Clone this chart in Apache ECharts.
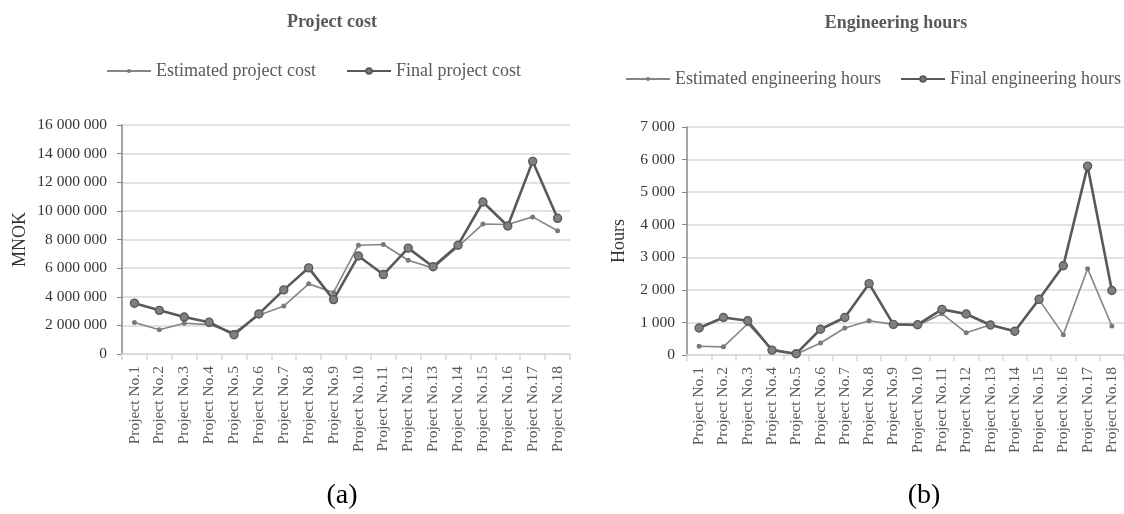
<!DOCTYPE html>
<html>
<head>
<meta charset="utf-8">
<script src="https://cdn.jsdelivr.net/npm/echarts@6/dist/echarts.min.js"></script>
<style>
  html, body { margin: 0; padding: 0; background: #ffffff; }
  #chart { width: 1124px; height: 514px; }
</style>
</head>
<body>
<div id="chart"></div>
<script>
// Project labels shared by both panels
const projects = [
  'Project No.1', 'Project No.2', 'Project No.3', 'Project No.4', 'Project No.5',
  'Project No.6', 'Project No.7', 'Project No.8', 'Project No.9', 'Project No.10',
  'Project No.11', 'Project No.12', 'Project No.13', 'Project No.14', 'Project No.15',
  'Project No.16', 'Project No.17', 'Project No.18'
];

// Panel (a): project cost, MNOK
const estimatedCost = [
  2200000, 1700000, 2150000, 2050000, 1500000, 2700000, 3350000, 4900000, 4300000,
  7600000, 7650000, 6550000, 6000000, 7500000, 9080000, 9050000, 9580000, 8610000
];
const finalCost = [
  3550000, 3050000, 2580000, 2220000, 1350000, 2800000, 4480000, 6020000, 3800000,
  6850000, 5550000, 7400000, 6100000, 7600000, 10620000, 8940000, 13460000, 9480000
];

// Panel (b): engineering hours
const estimatedHours = [
  270, 250, 960, 180, 20, 370, 830, 1050, 940,
  900, 1270, 680, 930, 730, 1700, 625, 2650, 890
];
const finalHours = [
  830, 1150, 1050, 150, 40, 790, 1150, 2190, 940,
  930, 1400, 1260, 920, 730, 1710, 2740, 5800, 1980
];

const FONT = "'Liberation Serif', 'DejaVu Serif', serif";
const TEXT = '#595959';
const GRID = '#d9d9d9';
const AXIS = '#868686';

function spaced(v) {
  return String(v).replace(/\B(?=(\d{3})+(?!\d))/g, ' ');
}

function catAxis(gridIndex) {
  return {
    type: 'category',
    gridIndex: gridIndex,
    data: projects,
    boundaryGap: true,
    axisLine: { show: true, lineStyle: { color: GRID, width: 1.5 } },
    axisTick: { show: true, length: 6, lineStyle: { color: GRID, width: 1.5 } },
    axisLabel: {
      rotate: 90, interval: 0, margin: 12,
      fontFamily: FONT, fontSize: 15.5, color: TEXT
    },
    splitLine: { show: false }
  };
}

function valAxis(gridIndex, max, interval, name, nameGap, labelMargin) {
  return {
    type: 'value',
    gridIndex: gridIndex,
    min: 0, max: max, interval: interval,
    name: name,
    nameLocation: 'middle',
    nameRotate: 90,
    nameGap: nameGap,
    nameTextStyle: { fontFamily: FONT, fontSize: 18, color: '#333333' },
    axisLine: { show: true, lineStyle: { color: AXIS, width: 1.5 } },
    axisTick: { show: true, length: 5, lineStyle: { color: AXIS } },
    axisLabel: {
      margin: labelMargin, fontFamily: FONT, fontSize: 15.5, color: '#333333',
      formatter: spaced
    },
    splitLine: { show: true, lineStyle: { color: GRID, width: 1.5 } }
  };
}

function estimatedSeries(name, data, idx) {
  return {
    name: name, type: 'line', data: data,
    xAxisIndex: idx, yAxisIndex: idx,
    symbol: 'circle', symbolSize: 5,
    lineStyle: { color: '#858585', width: 1.6 },
    itemStyle: { color: '#7a7a7a', borderWidth: 0 },
    z: 2
  };
}

function finalSeries(name, data, idx) {
  return {
    name: name, type: 'line', data: data,
    xAxisIndex: idx, yAxisIndex: idx,
    symbol: 'circle', symbolSize: 8,
    lineStyle: { color: '#595959', width: 2.6 },
    itemStyle: { color: '#808080', borderColor: '#595959', borderWidth: 1.4 },
    z: 3
  };
}

// One legend entry per component so each sits at its own spot
function legendItem(name, left, top, markSize) {
  return {
    data: [name], left: left, top: top,
    itemWidth: 44, itemHeight: markSize, itemGap: 0,
    textStyle: { fontFamily: FONT, fontSize: 18, color: TEXT }
  };
}

const chart = echarts.init(document.getElementById('chart'), null, { renderer: 'canvas' });

chart.setOption({
  animation: false,
  backgroundColor: '#ffffff',
  title: [
    {
      text: 'Project cost', left: 327, top: 8, textAlign: 'center',
      textStyle: { fontFamily: FONT, fontSize: 18, fontWeight: 'bold', color: TEXT }
    },
    {
      text: 'Engineering hours', left: 891, top: 9, textAlign: 'center',
      textStyle: { fontFamily: FONT, fontSize: 18, fontWeight: 'bold', color: TEXT }
    }
  ],
  legend: [
    legendItem('Estimated project cost', 101, 57, 5),
    legendItem('Final project cost', 341, 57, 7),
    legendItem('Estimated engineering hours', 620, 65, 5),
    legendItem('Final engineering hours', 895, 65, 7)
  ],
  grid: [
    { left: 122, top: 125, width: 448, height: 229 },
    { left: 687, top: 127, width: 440, height: 228 }
  ],
  xAxis: [catAxis(0), catAxis(1)],
  yAxis: [
    valAxis(0, 16000000, 2000000, 'MNOK', 93, 15),
    valAxis(1, 7000, 1000, 'Hours', 59, 12)
  ],
  series: [
    estimatedSeries('Estimated project cost', estimatedCost, 0),
    finalSeries('Final project cost', finalCost, 0),
    estimatedSeries('Estimated engineering hours', estimatedHours, 1),
    finalSeries('Final engineering hours', finalHours, 1)
  ],
  graphic: [
    {
      type: 'text', x: 342, y: 496,
      style: {
        text: '(a)', fontFamily: FONT, fontSize: 28, fill: '#000000',
        align: 'center', verticalAlign: 'middle'
      }
    },
    {
      type: 'text', x: 924, y: 496,
      style: {
        text: '(b)', fontFamily: FONT, fontSize: 28, fill: '#000000',
        align: 'center', verticalAlign: 'middle'
      }
    }
  ]
});
</script>
</body>
</html>
